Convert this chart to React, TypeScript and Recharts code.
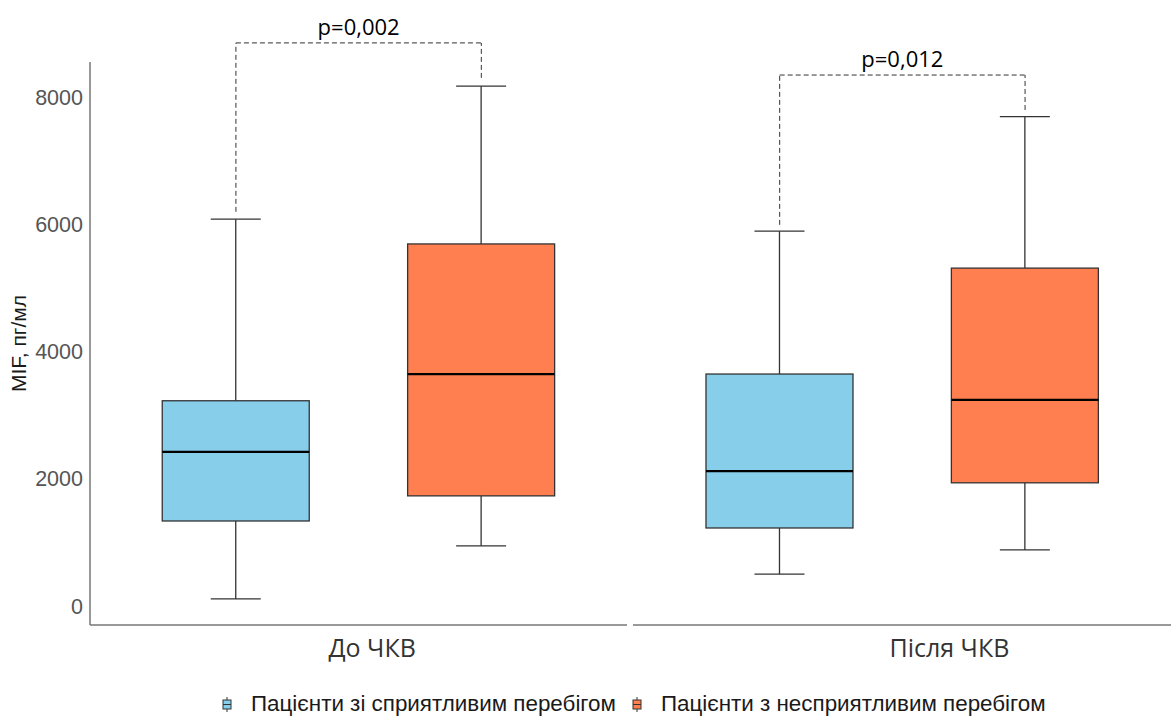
import React from 'react';
import {
  ComposedChart,
  Bar,
  Cell,
  XAxis,
  YAxis,
  ReferenceLine,
} from 'recharts';

const groups = ['До ЧКВ', 'Після ЧКВ'];
const seriesNames = [
  'Пацієнти зі сприятливим перебігом',
  'Пацієнти з несприятливим перебігом',
];
const COLORS = ['#87CEEB', '#FF7F50'];

// box statistics, in order: До ЧКВ (fav, unfav), Після ЧКВ (fav, unfav)
const lows = [110, 945, 500, 880];
const q1s = [1335, 1730, 1225, 1935];
const medians = [2420, 3645, 2120, 3240];
const q3s = [3225, 5690, 3645, 5310];
const highs = [6080, 8170, 5890, 7690];
const seriesOfBox = [0, 1, 0, 1];

const yTicks = [0, 2000, 4000, 6000, 8000];
const pValues = ['p=0,002', 'p=0,012'];
const bracketTops = [8850, 8345];
const bracketEnds = [
  [6195, 8300],
  [5990, 7795],
];

// layout on a 0..10 x scale
const boxX = [1.35, 3.62, 6.38, 8.65];
const facetLabelX = [2.61, 7.95];

const data = boxX.map((x, i) => ({
  x,
  range: [lows[i], highs[i]],
  lo: lows[i],
  q1: q1s[i],
  med: medians[i],
  q3: q3s[i],
  hi: highs[i],
}));

const BoxShape = (props: any) => {
  const { x, y, width, height, payload, fill } = props;
  const top = Math.min(y, y + height);
  const h = Math.abs(height);
  const { lo, hi } = payload;
  const py = (v: number) => top + ((hi - v) / (hi - lo)) * h;
  const cx = x + width / 2;
  const cap = 25;
  const stroke = '#333333';
  return (
    <g>
      <line x1={cx} x2={cx} y1={py(hi)} y2={py(payload.q3)} stroke={stroke} strokeWidth={1.3} />
      <line x1={cx} x2={cx} y1={py(payload.q1)} y2={py(lo)} stroke={stroke} strokeWidth={1.3} />
      <line x1={cx - cap} x2={cx + cap} y1={py(hi)} y2={py(hi)} stroke={stroke} strokeWidth={1.3} />
      <line x1={cx - cap} x2={cx + cap} y1={py(lo)} y2={py(lo)} stroke={stroke} strokeWidth={1.3} />
      <rect
        x={x}
        y={py(payload.q3)}
        width={width}
        height={py(payload.q1) - py(payload.q3)}
        fill={fill}
        stroke={stroke}
        strokeWidth={1.3}
      />
      <line x1={x} x2={x + width} y1={py(payload.med)} y2={py(payload.med)} stroke="#000" strokeWidth={2.2} />
    </g>
  );
};

const LegendKey = ({ color }: { color: string }) => (
  <svg width={10} height={15} style={{ marginRight: 19 }}>
    <line x1={5} x2={5} y1={0} y2={15} stroke="#333" strokeWidth={1} />
    <rect x={1} y={3} width={8} height={9} fill={color} stroke="#333" strokeWidth={1} />
    <line x1={1} x2={9} y1={7.5} y2={7.5} stroke="#333" strokeWidth={1} />
  </svg>
);

export default function App() {
  return (
    <div style={{ position: 'absolute', left: 0, top: 0, width: 1171, height: 718, background: '#fff' }}>
      <ComposedChart
        width={1171}
        height={718}
        data={data}
        margin={{ top: 62, right: 0, bottom: 53, left: 0 }}
      >
        <XAxis
          dataKey="x"
          type="number"
          domain={[0, 10]}
          ticks={facetLabelX}
          tickFormatter={(v: number) => groups[facetLabelX.indexOf(v)] ?? ''}
          axisLine={false}
          tickLine={false}
          tickSize={0}
          tickMargin={14}
          height={40}
          tick={{ fill: '#333333', fontSize: 25, fontFamily: 'Open Sans' }}
          interval={0}
          allowDataOverflow
        />
        <YAxis
          domain={[-300, 8550]}
          ticks={yTicks}
          width={90}
          tickLine={false}
          tickSize={0}
          tickMargin={7}
          axisLine={{ stroke: '#777777', strokeWidth: 1.5 }}
          tick={{ fill: '#555555', fontSize: 21.5, fontFamily: 'Liberation Sans' }}
          allowDataOverflow
          label={{
            value: 'MIF, пг/мл',
            angle: -90,
            position: 'insideLeft',
            dx: 14,
            style: { textAnchor: 'middle', fill: '#1a1a1a', fontSize: 21, fontFamily: 'Liberation Sans' },
          }}
        />
        <ReferenceLine
          segment={[{ x: 0, y: -300 }, { x: 4.968, y: -300 }]}
          stroke="#777777"
          strokeWidth={1.5}
          ifOverflow="visible"
        />
        <ReferenceLine
          segment={[{ x: 5.023, y: -300 }, { x: 10, y: -300 }]}
          stroke="#777777"
          strokeWidth={1.5}
          ifOverflow="visible"
        />
        {pValues.map((p, g) => {
          const xl = boxX[g * 2];
          const xr = boxX[g * 2 + 1];
          const yt = bracketTops[g];
          return (
            <React.Fragment key={p}>
              <ReferenceLine
                segment={[{ x: xl, y: bracketEnds[g][0] }, { x: xl, y: yt }]}
                stroke="#333"
                strokeDasharray="5 3"
                ifOverflow="visible"
              />
              <ReferenceLine
                segment={[{ x: xr, y: bracketEnds[g][1] }, { x: xr, y: yt }]}
                stroke="#333"
                strokeDasharray="5 3"
                ifOverflow="visible"
              />
              <ReferenceLine
                segment={[{ x: xl, y: yt }, { x: xr, y: yt }]}
                stroke="#333"
                strokeDasharray="5 3"
                ifOverflow="visible"
                label={{
                  value: p,
                  position: 'top',
                  offset: 8,
                  fill: '#000',
                  fontSize: 22,
                  fontFamily: 'Open Sans',
                }}
              />
            </React.Fragment>
          );
        })}
        <Bar dataKey="range" barSize={147} shape={<BoxShape />} isAnimationActive={false}>
          {data.map((d, i) => (
            <Cell key={i} fill={COLORS[seriesOfBox[i]]} />
          ))}
        </Bar>
      </ComposedChart>
      <div
        style={{
          position: 'absolute',
          top: 691,
          left: 222,
          display: 'flex',
          alignItems: 'center',
          fontFamily: 'Liberation Sans',
          fontSize: 22.4,
          color: '#1a1a1a',
          whiteSpace: 'nowrap',
        }}
      >
        {seriesNames.map((name, i) => (
          <div key={name} style={{ display: 'flex', alignItems: 'center', marginRight: i === 0 ? 16 : 0 }}>
            <LegendKey color={COLORS[i]} />
            <span>{name}</span>
          </div>
        ))}
      </div>
    </div>
  );
}
